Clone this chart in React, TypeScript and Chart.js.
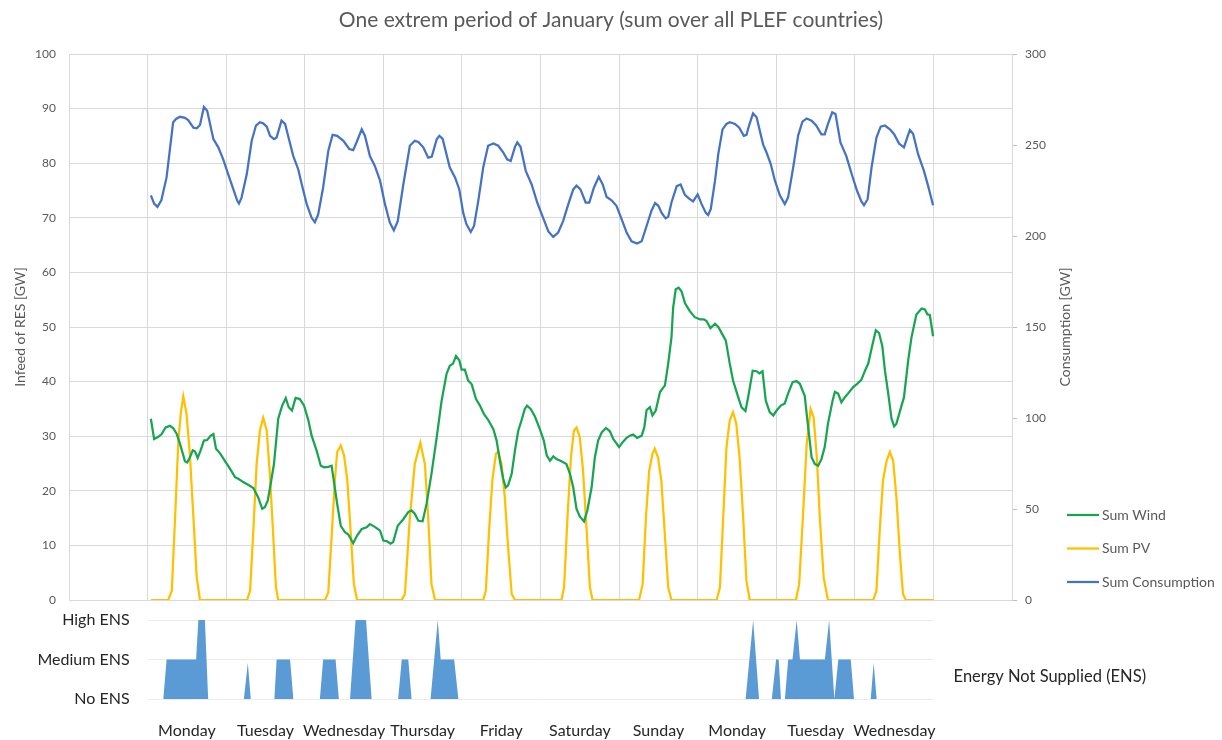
import React, { useEffect, useRef } from 'react';
import { Chart, registerables } from 'chart.js';

Chart.register(...registerables);
Chart.defaults.font.family = 'Lato, "Open Sans", sans-serif';

const TITLE = 'One extrem period of January (sum over all PLEF countries)';
const LEFT_TITLE = 'Infeed of RES [GW]';
const RIGHT_TITLE = 'Consumption [GW]';
const ENS_TITLE = 'Energy Not Supplied (ENS)';
const legendNames = ['Sum Wind', 'Sum PV', 'Sum Consumption'];
const dayNames = ['Monday', 'Tuesday', 'Wednesday', 'Thursday', 'Friday', 'Saturday', 'Sunday', 'Monday', 'Tuesday', 'Wednesday'];
const ensLabels = ['No ENS', 'Medium ENS', 'High ENS'];

// hours from the start of the axis (0..288, one gridline per day)
const consHours = [25.0, 26.0, 27.0, 28.2, 29.8, 31.8, 32.7, 33.9, 35.4, 36.4, 38.0, 39.0, 40.0, 41.2, 42.2, 44.1, 45.6, 47.1, 48.6, 50.2, 51.4, 51.9, 52.7, 54.3, 55.8, 57.1, 58.3, 59.3, 60.4, 61.4, 62.6, 63.4, 64.9, 66.0, 67.3, 68.5, 70.0, 71.1, 72.6, 74.1, 75.1, 76.1, 77.6, 79.2, 80.5, 81.9, 83.8, 85.6, 86.8, 87.8, 89.4, 90.4, 91.9, 93.4, 95.0, 96.5, 98.0, 99.2, 100.4, 102.1, 104.1, 105.6, 106.7, 108.2, 109.7, 110.8, 112.3, 113.1, 114.1, 116.3, 117.9, 119.2, 120.4, 121.4, 122.7, 123.7, 125.0, 126.5, 128.0, 129.6, 131.1, 132.6, 133.8, 134.9, 136.2, 136.9, 137.9, 139.5, 141.3, 143.0, 144.8, 146.4, 147.9, 149.4, 150.9, 152.5, 154.0, 155.0, 156.2, 157.8, 158.9, 160.3, 161.8, 163.0, 164.2, 165.7, 167.2, 168.8, 170.3, 171.8, 173.5, 174.9, 176.4, 177.9, 179.0, 180.0, 181.0, 182.2, 183.0, 184.0, 185.6, 186.8, 188.1, 189.4, 190.6, 192.0, 193.2, 194.5, 195.2, 196.0, 197.3, 198.3, 199.6, 200.8, 201.8, 203.4, 204.7, 206.1, 206.9, 207.7, 208.9, 210.0, 211.0, 212.0, 213.0, 214.3, 215.6, 217.1, 218.6, 219.6, 221.2, 222.7, 224.0, 225.3, 226.8, 228.2, 229.8, 230.8, 231.8, 233.1, 234.1, 235.6, 237.4, 239.2, 240.7, 242.0, 242.8, 243.9, 245.1, 246.6, 247.9, 249.2, 250.7, 252.0, 253.5, 255.0, 256.0, 256.8, 257.8, 259.3, 261.1, 262.4, 263.9];
const consValues = [222.3, 217.8, 216.0, 219.6, 232.2, 262.5, 264.3, 265.5, 264.9, 263.7, 259.5, 259.2, 261, 270.9, 268.8, 253.2, 248.7, 242.1, 234, 225.6, 219.3, 217.8, 221.1, 234, 252.3, 260.7, 262.5, 261.9, 260.1, 255, 253.2, 254.1, 263.4, 261.6, 252.3, 243.9, 236.7, 228.3, 217.5, 210, 207.6, 211.8, 226.5, 246.9, 255.6, 255, 252.3, 247.8, 247.2, 251.4, 258.6, 255, 243.9, 238.5, 230.4, 217.5, 207.3, 203.1, 208.2, 228.3, 249.6, 252.3, 251.7, 248.7, 243, 243.6, 253.2, 255, 253.5, 237.6, 232.2, 225.6, 212.7, 206.4, 202.2, 205.5, 219.3, 237.6, 249.6, 250.8, 249.6, 246, 242.1, 241.2, 249, 251.4, 249, 235.8, 228.3, 218.4, 210, 202.5, 199.5, 201.9, 208.2, 217.5, 225.6, 227.7, 225.6, 218.4, 218.4, 226.5, 232.5, 228.3, 221.4, 219.6, 216.6, 209.1, 201.9, 197.1, 195.9, 197.1, 205.5, 213.9, 218.1, 216.6, 212.7, 209.7, 210.6, 218.4, 227.4, 228.3, 222.6, 220.5, 219, 222.9, 217.5, 212.7, 211.5, 214.8, 230.4, 245.1, 258.6, 261.6, 262.5, 261.6, 259.5, 255, 255.6, 260.7, 267.3, 265.2, 257.7, 250.2, 246, 239.7, 230.4, 222.3, 217.5, 221.1, 237.9, 255.3, 262.8, 264.6, 263.4, 260.7, 255.9, 255.9, 261.6, 267.9, 267, 251.4, 243.9, 233.1, 224.7, 219, 216.9, 220.2, 237.6, 254.1, 260.1, 260.7, 258.6, 255.9, 250.8, 248.7, 254.1, 258.3, 256.2, 245.1, 235.8, 227.4, 216.9];

const windHours = [25.0, 26.0, 27.3, 28.3, 29.5, 30.8, 31.8, 32.9, 33.9, 34.9, 35.4, 36.1, 36.9, 37.8, 38.5, 39.3, 40.2, 41.2, 42.2, 43.3, 44.1, 44.9, 46.1, 47.6, 49.2, 50.7, 51.7, 53.2, 54.7, 56.3, 57.8, 59.0, 59.8, 60.7, 61.6, 62.6, 63.9, 65.1, 66.2, 67.1, 68.1, 69.2, 70.5, 71.8, 73.1, 74.1, 75.6, 76.9, 77.9, 79.2, 80.2, 81.0, 81.9, 83.0, 84.3, 85.3, 86.8, 88.0, 89.4, 90.9, 91.9, 93.4, 95.0, 96.0, 97.0, 98.2, 99.0, 100.4, 102.1, 103.6, 104.6, 105.6, 106.7, 108.0, 109.2, 110.7, 112.3, 113.8, 115.3, 116.3, 117.3, 118.2, 119.2, 119.9, 120.9, 121.9, 123.0, 124.3, 125.5, 126.7, 128.0, 129.6, 130.6, 131.6, 132.6, 133.4, 134.1, 135.2, 136.2, 137.2, 138.2, 139.2, 139.9, 141.0, 142.3, 143.8, 145.0, 145.9, 146.9, 147.9, 148.9, 150.4, 151.9, 153.0, 154.0, 155.0, 156.0, 157.3, 158.3, 159.6, 160.6, 161.6, 162.7, 164.0, 165.2, 166.2, 167.2, 168.0, 169.1, 170.3, 171.3, 172.3, 173.5, 174.9, 175.7, 176.4, 177.4, 178.2, 179.2, 180.5, 182.0, 183.0, 184.0, 184.5, 185.3, 186.2, 187.1, 188.1, 189.6, 191.1, 192.7, 193.9, 194.7, 195.9, 197.3, 198.3, 199.6, 200.6, 201.8, 202.8, 204.4, 205.4, 206.6, 207.4, 208.8, 210.0, 210.8, 211.8, 212.8, 214.0, 215.1, 216.1, 217.4, 218.6, 219.6, 221.0, 222.2, 223.2, 224.7, 225.4, 226.8, 227.8, 228.8, 229.8, 230.8, 231.8, 233.2, 233.9, 234.9, 235.9, 236.9, 237.9, 239.5, 240.7, 242.0, 243.1, 244.1, 245.1, 246.4, 247.4, 248.4, 249.2, 250.2, 251.2, 252.0, 252.7, 253.7, 255.0, 256.3, 257.3, 258.8, 260.4, 261.4, 262.2, 262.9, 263.9];
const windValues = [33.2, 29.5, 29.9, 30.4, 31.6, 31.9, 31.5, 30.4, 28.6, 26.5, 25.4, 25.2, 26.1, 27.4, 27.2, 26.0, 27.4, 29.2, 29.3, 30.1, 30.4, 27.7, 26.9, 25.5, 24.0, 22.5, 22.2, 21.6, 21.1, 20.5, 18.8, 16.7, 17.0, 18.2, 21.3, 24.9, 33.2, 35.6, 37.0, 35.3, 34.7, 37.0, 36.8, 35.6, 32.9, 30.1, 27.4, 24.6, 24.3, 24.4, 24.6, 21.3, 17.6, 13.6, 12.4, 12.0, 10.4, 11.8, 13.0, 13.3, 13.9, 13.4, 12.7, 10.9, 10.8, 10.3, 10.6, 13.6, 14.8, 16.1, 16.4, 15.8, 14.5, 14.4, 17.6, 23.1, 29.8, 36.5, 41.4, 42.9, 43.3, 44.7, 43.9, 42.2, 42.2, 40.2, 39.5, 36.8, 35.6, 34.1, 33.0, 31.3, 29.2, 25.5, 22.2, 20.6, 21.0, 23.1, 27.4, 31.0, 32.9, 35.0, 35.6, 35.0, 33.6, 31.3, 29.2, 26.5, 25.5, 26.3, 25.8, 25.4, 24.9, 23.1, 20.6, 16.7, 15.3, 14.4, 16.4, 20.6, 26.1, 29.2, 30.7, 31.5, 30.9, 29.5, 28.7, 28.0, 28.9, 29.7, 30.1, 30.3, 29.7, 30.1, 31.6, 34.8, 35.3, 33.8, 34.7, 38.1, 39.3, 43.3, 48.1, 53.5, 56.9, 57.2, 56.5, 54.4, 52.9, 51.8, 51.4, 51.4, 51.1, 49.8, 50.6, 50.0, 48.6, 47.5, 43.3, 40.2, 37.1, 35.3, 34.6, 37.1, 42.0, 41.9, 41.5, 41.9, 36.5, 34.4, 33.8, 34.7, 35.6, 36.0, 37.8, 39.9, 40.1, 39.6, 37.4, 33.5, 26.1, 24.9, 24.6, 25.8, 28.0, 32.3, 36.5, 38.1, 37.8, 36.2, 37.1, 37.8, 39.0, 39.6, 40.3, 42.0, 43.3, 46.0, 49.4, 48.9, 46.5, 42.0, 37.8, 33.2, 31.8, 32.3, 34.4, 37.1, 43.9, 48.1, 52.3, 53.4, 53.2, 52.3, 52.2, 48.3];

const pvHours = [25, 30.3, 31.4, 32.4, 33.4, 34.2, 34.9, 35.9, 36.9, 38.0, 39.0, 40.0,
  54.4, 55.3, 56.3, 57.3, 58.3, 59.3, 60.4, 61.4, 62.4, 63.2, 63.9,
  78.2, 79.2, 80.2, 81.2, 81.9, 83.0, 84.0, 85.0, 86.0, 87.0, 88.0,
  101.6, 102.6, 104.1, 105.6, 107.3, 108.7, 109.7, 110.7, 111.8,
  126.5, 127.3, 128.3, 129.3, 130.4, 131.1, 132.1, 133.1, 134.1, 135.2, 136.2,
  150.4, 151.2, 152.3, 153.3, 154.2, 155.0, 156.0, 157.0, 158.1, 159.1, 159.9,
  174.1, 175.2, 176.2, 177.2, 178.2, 178.9, 179.9, 180.9, 181.9, 183.0, 184.0,
  197.8, 198.8, 199.8, 200.8, 201.8, 202.8, 203.8, 204.8, 205.9, 206.9, 207.9,
  222.0, 223.0, 224.2, 225.3, 226.5, 227.4, 228.4, 229.3, 230.5, 231.8,
  245.6, 246.6, 247.6, 248.6, 249.7, 250.7, 251.7, 252.7, 253.7, 254.7, 255.6,
  264];
const pvValues = [0, 0, 1.7, 15.1, 29.2, 34.5, 37.3, 34.1, 26.8, 15.1, 4.2, 0,
  0, 1.7, 12.7, 24.9, 31.0, 33.4, 31.0, 22.5, 11.5, 2.3, 0,
  0, 1.4, 11.5, 21.9, 27.1, 28.3, 26.5, 21.9, 12.7, 2.9, 0,
  0, 1.1, 15.1, 24.9, 28.8, 24.9, 15.1, 2.9, 0,
  0, 1.7, 12.7, 21.9, 26.8, 27.2, 24.9, 18.8, 9.7, 1.1, 0,
  0, 2.3, 15.8, 26.1, 31.0, 31.6, 29.8, 23.7, 12.7, 2.3, 0,
  0, 2.9, 15.1, 23.7, 26.8, 27.7, 26.1, 21.9, 12.7, 2.3, 0,
  0, 2.3, 15.1, 28.0, 32.9, 34.4, 32.3, 26.1, 15.1, 3.5, 0,
  0, 2.9, 15.8, 28.6, 35.0, 33.5, 26.1, 15.1, 4.0, 0,
  0, 1.7, 12.7, 21.9, 25.5, 27.1, 25.5, 18.8, 9.0, 1.1, 0,
  0];

// ENS level: 0 = No ENS, 1 = Medium ENS, 2 = High ENS
const ensHours = [24, 28.8, 29.8, 38.8, 39.5, 41.5, 42.5, 53.4, 54.6, 55.5, 62.7, 63.4, 67.5, 68.5, 76.6, 77.6, 81.4, 82.4, 85.8, 87.5, 90.7, 92.4, 100.5, 101.6, 103.6, 104.6, 110.4, 112.6, 113.5, 117.6, 118.9, 206.6, 208.9, 210.7, 214.6, 215.9, 216.7, 217.4, 218.6, 219.6, 220.9, 222.2, 223.2, 230.8, 232.1, 233.7, 234.9, 238.7, 239.7, 244.8, 245.7, 246.6, 264];
const ensLevels = [0, 0, 1, 1, 2, 2, 0, 0, 0.92, 0, 0, 1, 1, 0, 0, 1, 1, 0, 0, 2, 2, 0, 0, 1, 1, 0, 0, 2, 1, 1, 0, 0, 2, 0, 0, 1, 1, 0, 0, 1, 1, 2, 1, 1, 2, 0, 1, 1, 0, 0, 0.92, 0, 0];

const C_WIND = '#17a552';
const C_PV = '#ffc000';
const C_CONS = '#4472c4';
const C_ENS = '#5b9bd5';
const GRID = '#d9d9d9';
const TXT = '#595959';
const DARK = '#262626';

function zip(xs: number[], ys: number[]) {
  const n = Math.min(xs.length, ys.length);
  const out: { x: number; y: number }[] = [];
  for (let i = 0; i < n; i++) out.push({ x: xs[i], y: ys[i] });
  return out;
}

const mainDecor = {
  id: 'mainDecor',
  afterDraw(chart: any) {
    const ctx = chart.ctx;
    const ca = chart.chartArea;
    const midY = (ca.top + ca.bottom) / 2;
    ctx.save();
    ctx.fillStyle = TXT;
    ctx.textBaseline = 'middle';
    ctx.textAlign = 'center';
    ctx.font = '21px Lato';
    ctx.fillText(TITLE, chart.width / 2, 20);
    ctx.font = '14px Lato';
    ctx.save();
    ctx.translate(ca.left - 49, midY);
    ctx.rotate(-Math.PI / 2);
    ctx.fillText(LEFT_TITLE, 0, 0);
    ctx.restore();
    ctx.save();
    ctx.translate(ca.right + 53, midY);
    ctx.rotate(-Math.PI / 2);
    ctx.fillText(RIGHT_TITLE, 0, 0);
    ctx.restore();
    // legend
    const colors = [C_WIND, C_PV, C_CONS];
    ctx.font = '14px Lato';
    ctx.textAlign = 'left';
    legendNames.forEach((name, i) => {
      const y = ca.bottom - 85 + i * 33.5;
      ctx.strokeStyle = colors[i];
      ctx.lineWidth = 2.25;
      ctx.beginPath();
      ctx.moveTo(ca.right + 55, y);
      ctx.lineTo(ca.right + 87, y);
      ctx.stroke();
      ctx.fillText(name, ca.right + 90, y);
    });
    ctx.restore();
  },
};

const ensDecor = {
  id: 'ensDecor',
  afterDraw(chart: any) {
    const ctx = chart.ctx;
    const ca = chart.chartArea;
    ctx.save();
    ctx.fillStyle = DARK;
    ctx.font = '16.5px Lato';
    ctx.textAlign = 'left';
    ctx.textBaseline = 'middle';
    ctx.fillText(ENS_TITLE, ca.right + 20, ca.top + 57);
    ctx.restore();
  },
};

export default function App() {
  const mainRef = useRef<HTMLCanvasElement>(null);
  const ensRef = useRef<HTMLCanvasElement>(null);

  useEffect(() => {
    const lineDs = (label: string, data: any[], color: string, axis: string) => ({
      label,
      data,
      borderColor: color,
      backgroundColor: color,
      borderWidth: 2.25,
      pointRadius: 0,
      tension: 0,
      yAxisID: axis,
      fill: false,
    });
    const main = new Chart(mainRef.current as HTMLCanvasElement, {
      type: 'line',
      data: {
        datasets: [
          lineDs(legendNames[0], zip(windHours, windValues), C_WIND, 'y'),
          lineDs(legendNames[1], zip(pvHours, pvValues), C_PV, 'y'),
          lineDs(legendNames[2], zip(consHours, consValues), C_CONS, 'y1'),
        ],
      },
      options: {
        responsive: false,
        animation: false,
        events: [],
        layout: { padding: { top: 54, bottom: 20, left: 0, right: 150 } },
        plugins: { legend: { display: false }, tooltip: { enabled: false }, title: { display: false } },
        scales: {
          x: {
            type: 'linear',
            min: 0,
            max: 288,
            ticks: { stepSize: 24, display: false },
            grid: { color: GRID, drawTicks: false, lineWidth: 1 },
            border: { color: GRID },
            afterFit: (s: any) => { s.height = 0; },
          },
          y: {
            position: 'left',
            min: 0,
            max: 100,
            ticks: { stepSize: 10, color: TXT, padding: 13, font: { size: 12 } },
            grid: { color: GRID, drawTicks: false },
            border: { color: GRID },
            afterFit: (s: any) => { s.width = 69; s.paddingTop = 0; s.paddingBottom = 0; },
          },
          y1: {
            position: 'right',
            min: 0,
            max: 300,
            ticks: { stepSize: 50, color: TXT, padding: 8, font: { size: 12 } },
            grid: { drawOnChartArea: false, drawTicks: true, tickLength: 5, color: '#bfbfbf' },
            border: { color: GRID },
            afterFit: (s: any) => { s.width = 60; s.paddingTop = 0; s.paddingBottom = 0; },
          },
        },
      },
      plugins: [mainDecor],
    } as any);

    const ens = new Chart(ensRef.current as HTMLCanvasElement, {
      type: 'line',
      data: {
        datasets: [
          {
            label: ENS_TITLE,
            data: zip(ensHours, ensLevels),
            borderWidth: 0,
            borderColor: C_ENS,
            backgroundColor: C_ENS,
            pointRadius: 0,
            tension: 0,
            fill: 'origin',
          },
        ],
      },
      options: {
        responsive: false,
        animation: false,
        events: [],
        layout: { padding: { top: 15, bottom: 0, left: 0, right: 288.4 } },
        plugins: { legend: { display: false }, tooltip: { enabled: false } },
        scales: {
          x: {
            type: 'linear',
            min: 24,
            max: 264,
            afterBuildTicks: (s: any) => { s.ticks = dayNames.map((_, i) => ({ value: 36 + 24 * i })); },
            ticks: { autoSkip: false, maxRotation: 0, color: DARK, padding: 22, font: { size: 16 }, callback: (_v: any, i: number) => dayNames[i] },
            grid: { display: false, drawTicks: false },
            border: { display: false },
            afterFit: (s: any) => { s.height = 41; s.paddingLeft = 0; s.paddingRight = 0; },
          },
          y: {
            min: 0,
            max: 2,
            ticks: { stepSize: 1, color: DARK, padding: 18, font: { size: 16 }, callback: (v: any) => ensLabels[v] ?? '' },
            grid: { color: '#ebebeb', drawTicks: false },
            border: { display: false },
            afterFit: (s: any) => { s.width = 147.6; s.paddingTop = 0; s.paddingBottom = 0; },
          },
        },
      },
      plugins: [ensDecor],
    } as any);

    return () => {
      main.destroy();
      ens.destroy();
    };
  }, []);

  return (
    <div style={{ position: 'fixed', left: 0, top: 0, width: 1222, height: 740, background: '#fff', overflow: 'hidden' }}>
      <canvas ref={mainRef} width={1222} height={620} style={{ position: 'absolute', left: 0, top: 0, width: 1222, height: 620 }} />
      <canvas ref={ensRef} width={1222} height={135} style={{ position: 'absolute', left: 0, top: 605, width: 1222, height: 135 }} />
    </div>
  );
}
